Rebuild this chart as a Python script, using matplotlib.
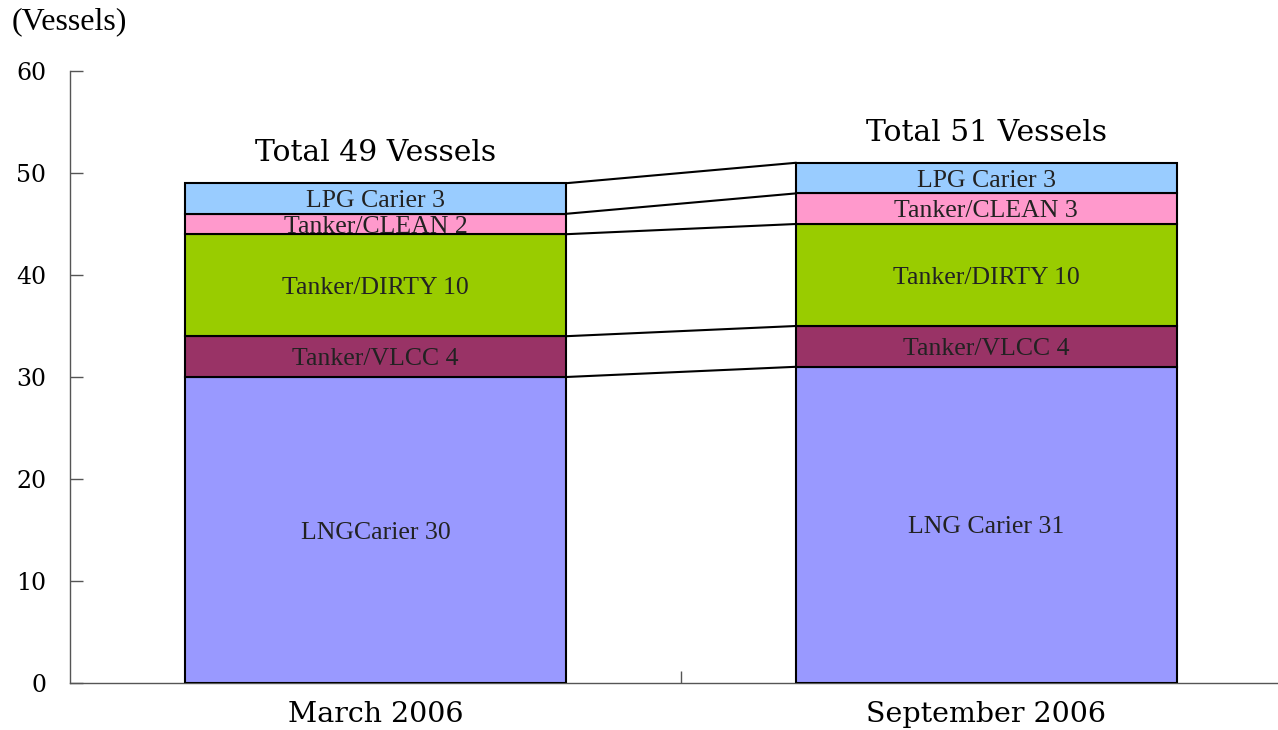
import matplotlib
matplotlib.use("Agg")
import matplotlib.pyplot as plt
import numpy as np

periods = ["March 2006", "September 2006"]
segments = ["LNG Carier", "Tanker/VLCC", "Tanker/DIRTY", "Tanker/CLEAN", "LPG Carier"]
values = {
    "LNG Carier": [30, 31],
    "Tanker/VLCC": [4, 4],
    "Tanker/DIRTY": [10, 10],
    "Tanker/CLEAN": [2, 3],
    "LPG Carier": [3, 3],
}
labels = {
    "LNG Carier": ["LNGCarier 30", "LNG Carier 31"],
    "Tanker/VLCC": ["Tanker/VLCC 4", "Tanker/VLCC 4"],
    "Tanker/DIRTY": ["Tanker/DIRTY 10", "Tanker/DIRTY 10"],
    "Tanker/CLEAN": ["Tanker/CLEAN 2", "Tanker/CLEAN 3"],
    "LPG Carier": ["LPG Carier 3", "LPG Carier 3"],
}
totals = ["Total 49 Vessels", "Total 51 Vessels"]
colors = ["#9999FF", "#993366", "#99CC00", "#FF99CC", "#99CCFF"]
yticks = [0, 10, 20, 30, 40, 50, 60]

fig = plt.figure(figsize=(12.78, 7.30), dpi=100)
ax = fig.add_axes([0.0548, 0.0644, 0.9452, 0.8383])

x = np.arange(len(periods))
width = 0.624
bottom = np.zeros(len(periods))
tops = [bottom.copy()]
serif = "Liberation Serif"
wide = "DejaVu Serif"
for seg, col in zip(segments, colors):
    v = np.array(values[seg], dtype=float)
    ax.bar(x, v, width, bottom=bottom, color=col, edgecolor="black", linewidth=1.5, zorder=3)
    for i in range(len(periods)):
        ax.text(x[i], bottom[i] + v[i] / 2 - 0.25, labels[seg][i], ha="center", va="center",
                fontsize=18.5, family=serif, color="#222222", zorder=4)
    bottom = bottom + v
    tops.append(bottom.copy())

# connector lines between stacks
for b in tops[1:]:
    ax.plot([x[0] + width / 2, x[1] - width / 2], [b[0], b[1]], color="black", lw=1.5, zorder=2)

for i in range(len(periods)):
    ax.text(x[i], bottom[i] + 1.6, totals[i], ha="center", va="bottom",
            fontsize=21.5, family=wide)

ax.set_xlim(-0.5, 1.478)
ax.set_ylim(0, 60)
ax.set_yticks(yticks)
ax.set_yticklabels([str(t) for t in yticks], fontsize=17, family=wide)
ax.set_xticks([0.5])
ax.set_xticklabels([""])
for i, p in enumerate(periods):
    ax.text(x[i], -1.75, p, ha="center", va="top", fontsize=20.5, family=wide)
ax.tick_params(axis="both", direction="in", length=9, color="#555555", width=1)
ax.tick_params(axis="y", pad=17)
for s in ["top", "right"]:
    ax.spines[s].set_visible(False)
for s in ["left", "bottom"]:
    ax.spines[s].set_color("#555555")
    ax.spines[s].set_linewidth(1)

fig.text(12 / 1278, 1 - 22 / 730, "(Vessels)", ha="left", va="center", fontsize=23, family=serif)

fig.savefig("out.png", dpi=100)
